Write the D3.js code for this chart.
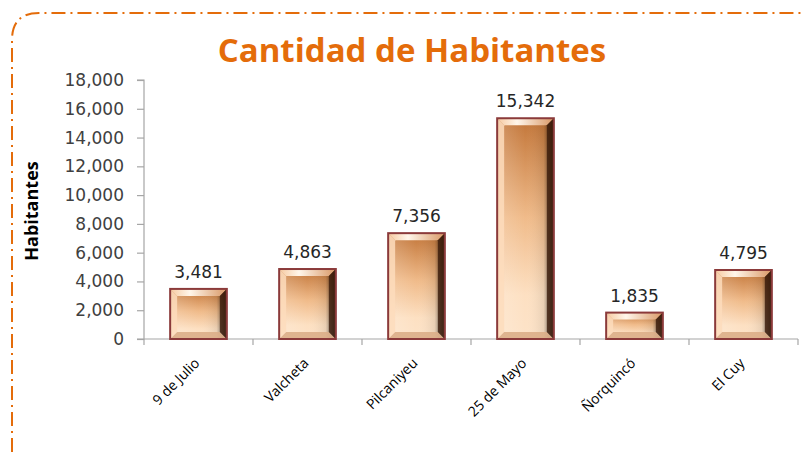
<!DOCTYPE html>
<html><head><meta charset="utf-8">
<script src="https://cdn.jsdelivr.net/npm/d3@7/dist/d3.min.js"></script>
<style>html,body{margin:0;padding:0;background:#fff;}svg{display:block;}</style>
</head><body>
<script>
const categories = ["9 de Julio","Valcheta","Pilcaniyeu","25 de Mayo","Ñorquincó","El Cuy"];
const values = [3481,4863,7356,15342,1835,4795];
const yTicks = [0,2000,4000,6000,8000,10000,12000,14000,16000,18000];
const title = "Cantidad de Habitantes";
const yTitle = "Habitantes";

const W=802,H=452;
const svg=d3.select("body").append("svg").attr("width",W).attr("height",H);
const defs=svg.append("defs");

// border (dash-dot orange, rounded top-left)
svg.append("path")
  .attr("d","M12,452 L12,40 Q12,13 39,13 L802,13")
  .attr("fill","none").attr("stroke","#e46c0a").attr("stroke-width",2)
  .attr("stroke-dasharray","14,5,2,5");

svg.append("text").attr("x",412).attr("y",62).attr("text-anchor","middle")
  .attr("font-family","'Open Sans', Lato, sans-serif").attr("font-weight","bold")
  .attr("font-size",33).attr("fill","#e46c0a").text(title);

const x=d3.scaleBand().domain(categories).range([144,798]).paddingInner(0.48).paddingOuter(0.24);
const y=d3.scaleLinear().domain([0,18000]).range([339,80]);

// gradients
const gV=defs.append("linearGradient").attr("id","gv").attr("x1",0).attr("y1",0).attr("x2",0).attr("y2",1);
gV.append("stop").attr("offset",0).attr("stop-color","#c27538");
gV.append("stop").attr("offset",0.45).attr("stop-color","#f0bb8a");
gV.append("stop").attr("offset",0.8).attr("stop-color","#fde0c2");
gV.append("stop").attr("offset",1).attr("stop-color","#fde3c8");
const gH=defs.append("linearGradient").attr("id","gh").attr("x1",0).attr("y1",0).attr("x2",1).attr("y2",0);
gH.append("stop").attr("offset",0).attr("stop-color","#ffffff").attr("stop-opacity",0.2);
gH.append("stop").attr("offset",0.5).attr("stop-color","#ffffff").attr("stop-opacity",0);
gH.append("stop").attr("offset",0.82).attr("stop-color","#000000").attr("stop-opacity",0.08);
gH.append("stop").attr("offset",1).attr("stop-color","#000000").attr("stop-opacity",0.7);
const gT=defs.append("linearGradient").attr("id","gt").attr("x1",0).attr("y1",0).attr("x2",1).attr("y2",0);
gT.append("stop").attr("offset",0).attr("stop-color","#f6c9a0");
gT.append("stop").attr("offset",0.35).attr("stop-color","#fff6ea");
gT.append("stop").attr("offset",1).attr("stop-color","#d99866");

// axes
const gy=svg.append("g").attr("transform","translate(144,0)")
  .call(d3.axisLeft(y).tickValues(yTicks).tickSize(7).tickPadding(13).tickFormat(d3.format(",")));
gy.select(".domain").attr("stroke","#a6a6a6").attr("d","M-7,80H0V339H-7").attr("stroke-width",1.2);
gy.selectAll(".tick line").attr("stroke","#a6a6a6").attr("stroke-width",1.2);
gy.selectAll(".tick text").attr("font-family","'DejaVu Sans', Verdana, sans-serif").attr("font-size",17).attr("fill","#404040");

const boundaries=d3.range(categories.length+1).map(i=>144+i*(654/categories.length));
svg.append("line").attr("x1",144).attr("x2",798).attr("y1",339).attr("y2",339).attr("stroke","#a6a6a6").attr("stroke-width",1.2);
svg.selectAll("line.xt").data(boundaries).enter().append("line").attr("class","xt")
  .attr("x1",d=>d).attr("x2",d=>d).attr("y1",339).attr("y2",345).attr("stroke","#a6a6a6").attr("stroke-width",1.2);

svg.append("text").attr("transform","translate(38,211) rotate(-90)").attr("text-anchor","middle")
  .attr("font-family","'Open Sans', sans-serif").attr("font-weight","bold").attr("font-size",18).attr("fill","#000").text(yTitle);

// bars
const bars=svg.selectAll("g.bar").data(categories).enter().append("g").attr("class","bar");
bars.each(function(c,i){
  const g=d3.select(this);
  const bx=x(c), bw=x.bandwidth(), by=y(values[i]), bh=y(0)-y(values[i]);
  g.append("rect").attr("x",bx).attr("y",by).attr("width",bw).attr("height",bh).attr("fill","url(#gv)");
  g.append("rect").attr("x",bx).attr("y",by).attr("width",bw).attr("height",bh).attr("fill","url(#gh)");
  const b=7;
  g.append("path").attr("d",`M${bx},${by}H${bx+bw}L${bx+bw-b},${by+b}H${bx+b}Z`).attr("fill","url(#gt)");
  g.append("path").attr("d",`M${bx},${by}L${bx+b},${by+b}V${by+bh-b}L${bx},${by+bh}Z`).attr("fill","#fddcbc").attr("opacity",0.85);
  g.append("path").attr("d",`M${bx},${by+bh}L${bx+b},${by+bh-b}H${bx+bw-b}L${bx+bw},${by+bh}Z`).attr("fill","#dcae88").attr("opacity",0.9);
  g.append("path").attr("d",`M${bx+bw},${by}L${bx+bw-b},${by+b}V${by+bh-b}L${bx+bw},${by+bh}Z`).attr("fill","#3a1a0a").attr("opacity",0.8);
  g.append("rect").attr("x",bx).attr("y",by).attr("width",bw).attr("height",bh).attr("fill","none")
    .attr("stroke","#8b3a3a").attr("stroke-width",2);
  g.append("text").attr("x",bx+bw/2).attr("y",by-11).attr("text-anchor","middle")
    .attr("font-family","'DejaVu Sans', Verdana, sans-serif").attr("font-size",17).attr("fill","#262626")
    .text(d3.format(",")(values[i]));
  g.append("text").attr("transform",`translate(${bx+bw/2+2},${364}) rotate(-45)`).attr("text-anchor","end")
    .attr("font-family","'Open Sans', sans-serif").attr("font-size",14).attr("fill","#000").text(c);
});
</script>
</body></html>
